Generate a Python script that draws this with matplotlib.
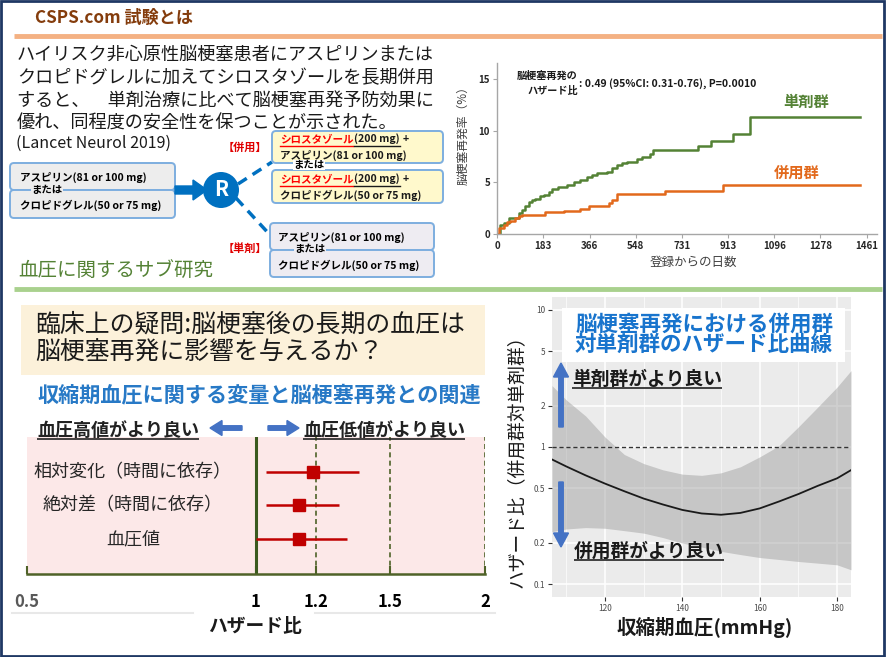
import matplotlib
matplotlib.use('Agg')
import matplotlib.pyplot as plt
from matplotlib.patches import FancyBboxPatch, Rectangle, Circle, FancyArrow
from matplotlib.ticker import NullLocator, FixedLocator
import matplotlib.transforms as mtransforms

plt.rcParams['font.family'] = ['Noto Sans CJK JP', 'DejaVu Sans']

W, H = 886, 657

# ---------------- data ----------------
km_single_days = [0, 13, 26, 46, 86, 99, 112, 125, 138, 151, 168, 184, 204, 217, 243, 276, 303, 329,
                  355, 375, 395, 434, 454, 474, 493, 513, 553, 572, 605, 616, 796, 846, 932, 1000, 1434]
km_single_pct = [0, 0.9, 1.1, 1.55, 2.0, 2.35, 2.7, 3.1, 3.3, 3.4, 3.65, 3.8, 4.1, 4.35, 4.6, 4.75, 5.0, 5.25,
                 5.5, 5.75, 5.9, 6.05, 6.4, 6.65, 6.87, 7.0, 7.25, 7.5, 7.75, 8.2, 8.55, 9.0, 9.7, 11.4, 11.4]
km_combo_days = [0, 7, 26, 40, 53, 72, 86, 99, 191, 263, 329, 362, 441, 454, 474, 665, 895, 1434]
km_combo_pct = [0, 0.6, 0.9, 1.13, 1.3, 1.55, 1.7, 1.8, 2.1, 2.2, 2.4, 2.7, 3.0, 3.3, 3.9, 4.2, 4.8, 4.8]
km_xticks = [0, 183, 366, 548, 731, 913, 1096, 1278, 1461]
km_yticks = [0, 5, 10, 15]

forest_labels = ['相対変化（時間に依存）', '絶対差（時間に依存）', '血圧値']
forest_hr = [1.19, 1.14, 1.14]
forest_lo = [1.03, 1.03, 1.00]
forest_hi = [1.366, 1.285, 1.317]
forest_ticks = [0.5, 1, 1.2, 1.5, 2]
forest_ticklabels = ['0.5', '1', '1.2', '1.5', '2']
forest_refs = [1.2, 1.5, 2]

sbp = [106.3, 110, 115, 120, 125, 130, 135, 140, 145, 150, 155, 160, 165, 170, 175, 180, 183.6]
sbp_hr = [0.81, 0.72, 0.62, 0.54, 0.475, 0.42, 0.38, 0.347, 0.327, 0.32, 0.33, 0.356, 0.40, 0.453, 0.52, 0.59, 0.677]
sbp_hi = [2.8, 2.2, 1.68, 1.18, 0.88, 0.756, 0.68, 0.633, 0.62, 0.647, 0.716, 0.846, 1.02, 1.40, 1.95, 2.73, 3.6]
sbp_lo = [0.241, 0.252, 0.258, 0.255, 0.245, 0.235, 0.218, 0.199, 0.186, 0.173, 0.164, 0.156, 0.151, 0.146, 0.142, 0.138, 0.127]
gg_yticks = [0.1, 0.2, 0.5, 1, 2, 5, 10]
gg_yticklabels = ['0.1', '0.2', '0.5', '1', '2', '5', '10']
gg_xticks = [120, 140, 160, 180]
gg_xminor = [110, 130, 150, 170]

GREEN = '#548235'
ORANGE = '#E2691C'
BLUE = '#0070C0'
ARROWBLUE = '#4472C4'

fig = plt.figure(figsize=(W / 100, H / 100), dpi=100)
fig.patch.set_facecolor('white')


def px_axes(x0, y0, x1, y1, **kw):
    return fig.add_axes([x0 / W, 1 - y1 / H, (x1 - x0) / W, (y1 - y0) / H], **kw)


# ---------------- KM chart ----------------
km = px_axes(497, 63, 877, 234)
km.step(km_single_days, km_single_pct, where='post', color=GREEN, lw=1.8)
km.step(km_combo_days, km_combo_pct, where='post', color=ORANGE, lw=1.8)
km.set_xlim(0, 1502)
km.set_ylim(0, 16.6)
km.set_xticks(km_xticks)
km.set_yticks(km_yticks)
for s in ['top', 'right']:
    km.spines[s].set_visible(False)
for s in ['left', 'bottom']:
    km.spines[s].set_color('#A6A6A6')
    km.spines[s].set_linewidth(1)
km.tick_params(direction='out', length=3, color='#A6A6A6', labelsize=7, labelcolor='#262626', pad=2)
for lab in km.get_xticklabels() + km.get_yticklabels():
    lab.set_fontweight('bold')
km.patch.set_alpha(0)

# ---------------- forest plot ----------------
fa = px_axes(27, 437, 485, 574)
fa.set_facecolor('#FCE8E8')
fa.set_xscale('log')
fa.set_xlim(0.5, 2)
fa.set_ylim(3.045, -1.045)
rows = list(range(len(forest_labels)))
for r in forest_refs:
    fa.axvline(r, color='#4F6228', lw=1.2, ls=(0, (3, 2)))
fa.axvline(1, color='#3A5A1E', lw=2.2)
xerr = [[h - l for h, l in zip(forest_hr, forest_lo)], [u - h for h, u in zip(forest_hr, forest_hi)]]
fa.errorbar(forest_hr, rows, xerr=xerr, fmt='s', color='#C00000', ms=9, lw=1.8, capsize=0, zorder=5)
fa.set_xticks(forest_ticks)
fa.set_xticklabels(forest_ticklabels)
fa.xaxis.set_minor_locator(NullLocator())
fa.set_yticks([])
for s in ['top', 'right', 'left']:
    fa.spines[s].set_visible(False)
fa.spines['bottom'].set_color('#4F6228')
fa.spines['bottom'].set_linewidth(1.8)
fa.tick_params(axis='x', direction='in', length=6, width=1.5, color='#4F6228', labelsize=12, pad=13.5)
for i, lab in enumerate(fa.get_xticklabels()):
    lab.set_fontweight('bold')
    lab.set_color('#595959' if i == 0 else '#000000')
bt = mtransforms.blended_transform_factory(fa.transAxes, fa.transData)
for r, lab in zip(rows, forest_labels):
    fa.text(0.231, r, lab, transform=bt, ha='center', va='center', fontsize=13, color='#262626')

# ---------------- ggplot-like HR curve ----------------
gg = px_axes(552, 297, 851, 597)
gg.set_facecolor('#EBEBEB')
gg.set_yscale('log')
gg.set_xlim(106.3, 183.6)
gg.set_ylim(0.0804, 12.4)
gg.set_axisbelow(True)
gg.set_xticks(gg_xticks)
gg.xaxis.set_minor_locator(FixedLocator(gg_xminor))
gg.set_yticks(gg_yticks)
gg.set_yticklabels(gg_yticklabels)
gg.yaxis.set_minor_locator(NullLocator())
gg.grid(True, which='major', color='white', lw=1.1)
gg.grid(True, which='minor', axis='x', color='white', lw=0.5)
for s in gg.spines.values():
    s.set_visible(False)
gg.tick_params(which='major', direction='out', length=3, width=0.8, color='#333333',
               labelsize=6, labelcolor='#4D4D4D', pad=2)
gg.tick_params(which='minor', length=0)
gg.fill_between(sbp, sbp_lo, sbp_hi, color='#999999', alpha=0.45, lw=0, zorder=2)
gg.axhline(1, color='#333333', lw=1, ls=(0, (3, 2)), zorder=3)
gg.plot(sbp, sbp_hr, color='#1A1A1A', lw=1.3, zorder=4)

# ---------------- overlay in pixel coords ----------------
ov = fig.add_axes([0, 0, 1, 1], zorder=10)
ov.set_xlim(0, W)
ov.set_ylim(H, 0)
ov.axis('off')
ov.patch.set_alpha(0)

renderer = fig.canvas.get_renderer()


def xextent(t):
    bb = t.get_window_extent(renderer)
    inv = ov.transData.inverted()
    (a, _), (b, _) = inv.transform([(bb.x0, bb.y0), (bb.x1, bb.y1)])
    return a, b


def underline(t, y, color='#222222', lw=1.2):
    a, b = xextent(t)
    ov.plot([a, b], [y, y], color=color, lw=lw, solid_capstyle='butt')


# header
ov.text(35, 18, 'CSPS.com 試験とは', fontsize=12.3, fontweight='bold', color='#843C0C', va='center')
ov.plot([14, 882], [35.5, 35.5], color='#F4B183', lw=3.5, solid_capstyle='butt')

para = ['ハイリスク非心原性脳梗塞患者にアスピリンまたは',
        'クロピドグレルに加えてシロスタゾールを長期併用',
        'すると、　単剤治療に比べて脳梗塞再発予防効果に',
        '優れ、同程度の安全性を保つことが示された。']
for i, line in enumerate(para):
    ov.text(17, 55 + 23 * i, line, fontsize=13.1, color='#1A1A1A', va='center')
ov.text(16, 143, '(Lancet Neurol 2019)', fontsize=11.5, color='#1A1A1A', va='center')

# KM annotations
ov.text(463, 133, '脳梗塞再発率（%）', rotation=90, fontsize=8.5, color='#404040', ha='center', va='center')
ov.text(693, 262, '登録からの日数', fontsize=9, color='#404040', ha='center', va='center')
ov.text(578, 76, '脳梗塞再発の', fontsize=7.3, fontweight='bold', ha='right', va='center', color='#1A1A1A')
ov.text(578, 91, 'ハザード比', fontsize=7.3, fontweight='bold', ha='right', va='center', color='#1A1A1A')
ov.text(579, 84, ': 0.49 (95%CI: 0.31-0.76), P=0.0010', fontsize=7.5, fontweight='bold', ha='left',
        va='center', color='#1A1A1A')
ov.text(806, 102, '単剤群', fontsize=11, fontweight='bold', color=GREEN, ha='center', va='center')
ov.text(797, 173, '併用群', fontsize=11, fontweight='bold', color=ORANGE, ha='center', va='center')

# flow diagram
BORDER = '#7DAEDF'


def rbox(x0, y0, x1, y1, fc):
    ov.add_patch(FancyBboxPatch((x0, y0), x1 - x0, y1 - y0, boxstyle='round,pad=0,rounding_size=4',
                                fc=fc, ec=BORDER, lw=1.4, zorder=2))


rbox(10, 163, 175, 190, '#EDEDED')
rbox(10, 190, 175, 218, '#EDEDED')
ov.text(20, 177, 'アスピリン(81 or 100 mg)', fontsize=7.6, fontweight='bold', va='center', zorder=3)
ov.text(20, 205, 'クロピドグレル(50 or 75 mg)', fontsize=7.6, fontweight='bold', va='center', zorder=3)
ov.text(47, 190, 'または', fontsize=7.5, fontweight='bold', ha='center', va='center', zorder=4,
        bbox=dict(fc='#EDEDED', ec='none', pad=0.3))

ov.add_patch(FancyArrow(175, 190, 32, 0, width=8, head_width=20, head_length=14,
                        length_includes_head=True, color=BLUE, zorder=3))
ov.add_patch(Circle((221, 190), 18, fc=BLUE, ec='none', zorder=4))
ov.text(221, 190, 'R', fontsize=15, fontweight='bold', color='white', ha='center', va='center', zorder=5)
ov.plot([238, 272], [184, 162], color=BLUE, lw=2.5, ls=(0, (3, 2)), zorder=1)
ov.plot([236, 271], [198, 236], color=BLUE, lw=2.5, ls=(0, (3, 2)), zorder=1)

ov.text(245, 147, '【併用】', fontsize=8, fontweight='bold', color='#E00000', ha='center', va='center')
ov.text(245, 248, '【単剤】', fontsize=8, fontweight='bold', color='#E00000', ha='center', va='center')

rbox(272, 131, 443, 163, '#FFF9CC')
rbox(272, 170, 443, 203, '#FFF9CC')
for ytop, second in [(139, 'アスピリン(81 or 100 mg)'), (179, 'クロピドグレル(50 or 75 mg)')]:
    t1 = ov.text(280, ytop, 'シロスタゾール', fontsize=7.6, fontweight='bold', color='#FF0000', va='center', zorder=3)
    a, b = xextent(t1)
    t2 = ov.text(b + 1, ytop, '(200 mg)', fontsize=7.6, fontweight='bold', color='#1A1A1A', va='center', zorder=3)
    a2, b2 = xextent(t2)
    ov.text(b2 + 3, ytop, '+', fontsize=7.6, fontweight='bold', color='#1A1A1A', va='center', zorder=3)
    ov.plot([a, b], [ytop + 7, ytop + 7], color='#FF0000', lw=1, zorder=3)
    ov.plot([b + 1, b2], [ytop + 7, ytop + 7], color='#1A1A1A', lw=1, zorder=3)
    ov.text(280, ytop + 16, second, fontsize=7.6, fontweight='bold', color='#1A1A1A', va='center', zorder=3)
ov.text(309, 165, 'または', fontsize=7.5, fontweight='bold', ha='center', va='center', zorder=4,
        bbox=dict(fc='white', ec='none', pad=0.3))

rbox(270, 223, 434, 250, '#EEECF2')
rbox(270, 250, 434, 277, '#EEECF2')
ov.text(278, 237, 'アスピリン(81 or 100 mg)', fontsize=7.6, fontweight='bold', va='center', zorder=3)
ov.text(278, 265, 'クロピドグレル(50 or 75 mg)', fontsize=7.6, fontweight='bold', va='center', zorder=3)
ov.text(310, 249, 'または', fontsize=7.5, fontweight='bold', ha='center', va='center', zorder=4,
        bbox=dict(fc='#EEECF2', ec='none', pad=0.3))

ov.text(18, 270, '血圧に関するサブ研究', fontsize=14, color=GREEN, va='center')
ov.plot([14, 882], [288.5, 288.5], color='#A9D18E', lw=3.5, solid_capstyle='butt')

# bottom-left texts
ov.add_patch(Rectangle((21, 305), 464, 70, fc='#FCF1DA', ec='none', zorder=0))
ov.text(35, 325, '臨床上の疑問:脳梗塞後の長期の血圧は', fontsize=17.9, color='#1A1A1A', va='center',
        fontstyle='italic')
ov.text(35, 353, '脳梗塞再発に影響を与えるか？', fontsize=17.9, color='#1A1A1A', va='center', fontstyle='italic')
ov.text(259, 395, '収縮期血圧に関する変量と脳梗塞再発との関連', fontsize=15.2, fontweight='bold',
        color='#2779C6', ha='center', va='center')
tl = ov.text(37, 430, '血圧高値がより良い', fontsize=13, fontweight='bold', fontstyle='italic',
             color='#222222', va='center')
underline(tl, 439)
tr = ov.text(303, 430, '血圧低値がより良い', fontsize=13, fontweight='bold', fontstyle='italic',
             color='#222222', va='center')
underline(tr, 439)
ov.add_patch(FancyArrow(242, 428, -32, 0, width=4.5, head_width=15, head_length=12,
                        length_includes_head=True, color=ARROWBLUE))
ov.add_patch(FancyArrow(268, 428, 31, 0, width=4.5, head_width=15, head_length=12,
                        length_includes_head=True, color=ARROWBLUE))
ov.plot([12, 193], [613, 613], color='#E8E8E8', lw=1.5)
ov.plot([315, 495], [613, 613], color='#E8E8E8', lw=1.5)
ov.text(255, 627, 'ハザード比', fontsize=13.5, fontweight='bold', color='#1A1A1A', ha='center', va='center')

# bottom-right texts
ov.add_patch(Rectangle((562, 308), 283, 54, fc='white', ec='none', zorder=1))
ov.text(704, 324, '脳梗塞再発における併用群', fontsize=15.5, fontweight='bold', color='#1874CD',
        ha='center', va='center', zorder=2)
ov.text(704, 344, '対単剤群のハザード比曲線', fontsize=15.5, fontweight='bold', color='#1874CD',
        ha='center', va='center', zorder=2)
ov.add_patch(FancyArrow(561, 427, 0, -64, width=4.5, head_width=15, head_length=14,
                        length_includes_head=True, color=ARROWBLUE))
ov.add_patch(FancyArrow(561, 482, 0, 65, width=4.5, head_width=15, head_length=14,
                        length_includes_head=True, color=ARROWBLUE))
tu = ov.text(572, 379, '単剤群がより良い', fontsize=13.5, fontweight='bold', fontstyle='italic',
             color='#1A1A1A', va='center')
underline(tu, 388)
td = ov.text(574, 551, '併用群がより良い', fontsize=13.5, fontweight='bold', fontstyle='italic',
             color='#1A1A1A', va='center')
underline(td, 560)
ov.text(516, 457, 'ハザード比（併用群対単剤群）', rotation=90, fontsize=13.5, color='#1A1A1A',
        ha='center', va='center')
ov.text(705, 628, '収縮期血圧(mmHg)', fontsize=14, fontweight='bold', color='#1A1A1A', ha='center', va='center')

# outer frame
ov.add_patch(Rectangle((1, 1), W - 2.5, H - 2.5, fill=False, ec='#1F3864', lw=2))

fig.savefig('out.png', dpi=100, facecolor='white')
